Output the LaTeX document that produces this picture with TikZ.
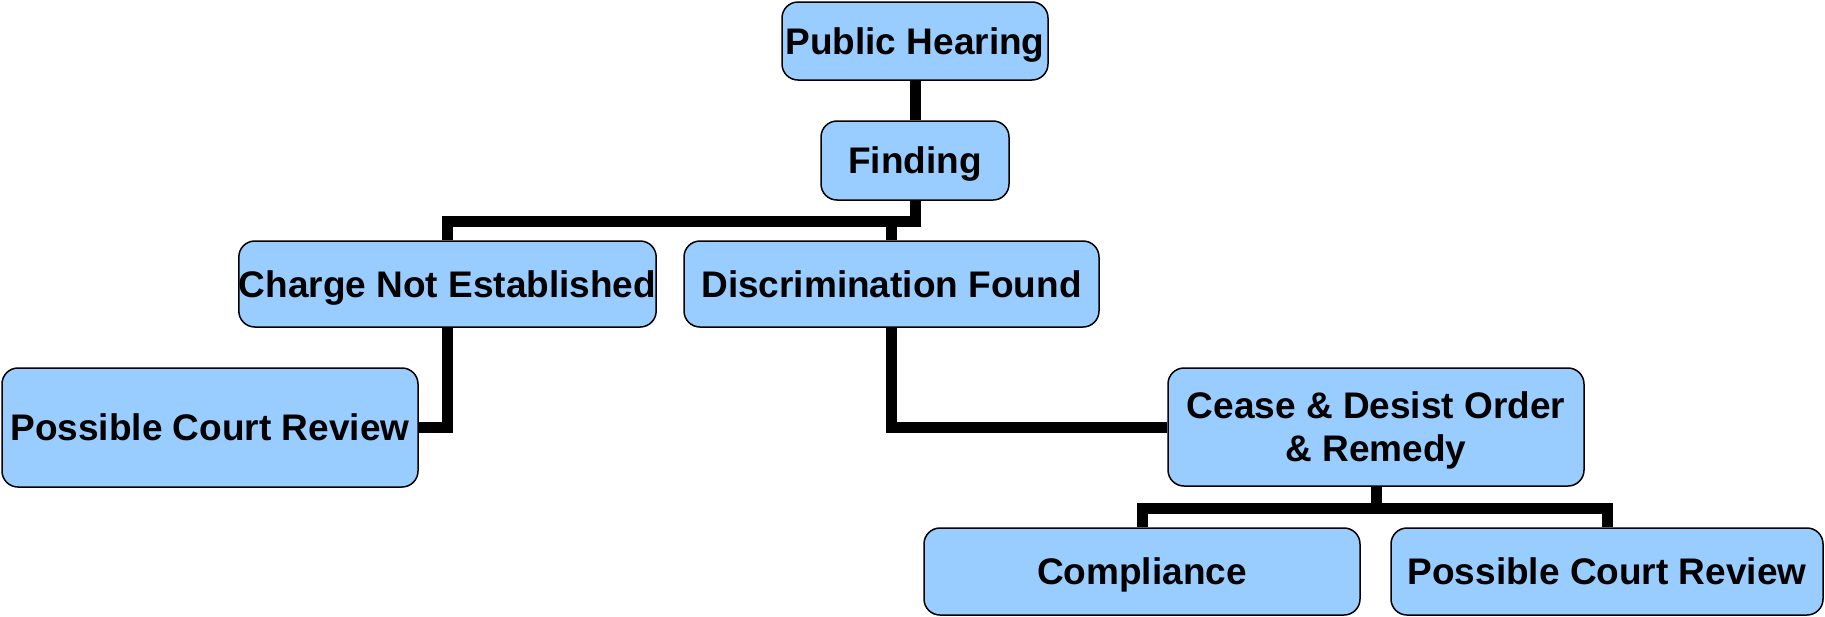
\documentclass[tikz,border=0pt]{standalone}
\usepackage{fontspec}
\setmainfont{Liberation Sans}
\begin{document}
\begin{tikzpicture}[x=1pt,y=-1pt,
  box/.style={draw=black, line width=1.5pt, fill=boxblue, rounded corners=16pt,
    inner sep=0pt, align=center, text height=26.5pt, text depth=0pt,
    font=\fontsize{37}{42.5}\selectfont\bfseries},
  twoline/.style={text height={}, text depth={}},
  conn/.style={draw=black, line width=11pt, line join=miter}]
\definecolor{boxblue}{HTML}{99CCFF}
\useasboundingbox (0,0) rectangle (1825,616);
\node[box, minimum width=266pt, minimum height=78pt] (ph) at (915,41) {Public Hearing};
\node[box, minimum width=188pt, minimum height=79pt] (find) at (915,160.5) {Finding};
\node[box, minimum width=415pt, minimum height=86pt] (charge) at (447.5,284) {Charge Not Established};
\node[box, minimum width=415pt, minimum height=86pt] (disc) at (891.5,284) {Discrimination Found};
\node[box, minimum width=416pt, minimum height=119pt] (pcr1) at (210,427.5) {Possible Court Review};
\node[box, twoline, minimum width=416pt, minimum height=118pt] (cease) at (1376,427) {Cease \& Desist Order\\\& Reme\smash{dy}};
\node[box, minimum width=436pt, minimum height=87pt] (comp) at (1142,571.5) {Compliance};
\node[box, minimum width=432pt, minimum height=87pt] (pcr2) at (1607,571.5) {Possible Court Review};
\coordinate (bar1) at (0,221);
\coordinate (bar2) at (0,508);
\draw[conn] (ph.south) -- (find.north);
\draw[conn] (find.south) -- (find.south |- bar1) -| (charge.north);
\draw[conn] (find.south |- bar1) -| (disc.north);
\draw[conn] (charge.south) |- (pcr1.east);
\draw[conn] (disc.south) |- (cease.west);
\draw[conn] (cease.south) -- (cease.south |- bar2) -| (comp.north);
\draw[conn] (cease.south |- bar2) -| (pcr2.north);
\end{tikzpicture}
\end{document}
